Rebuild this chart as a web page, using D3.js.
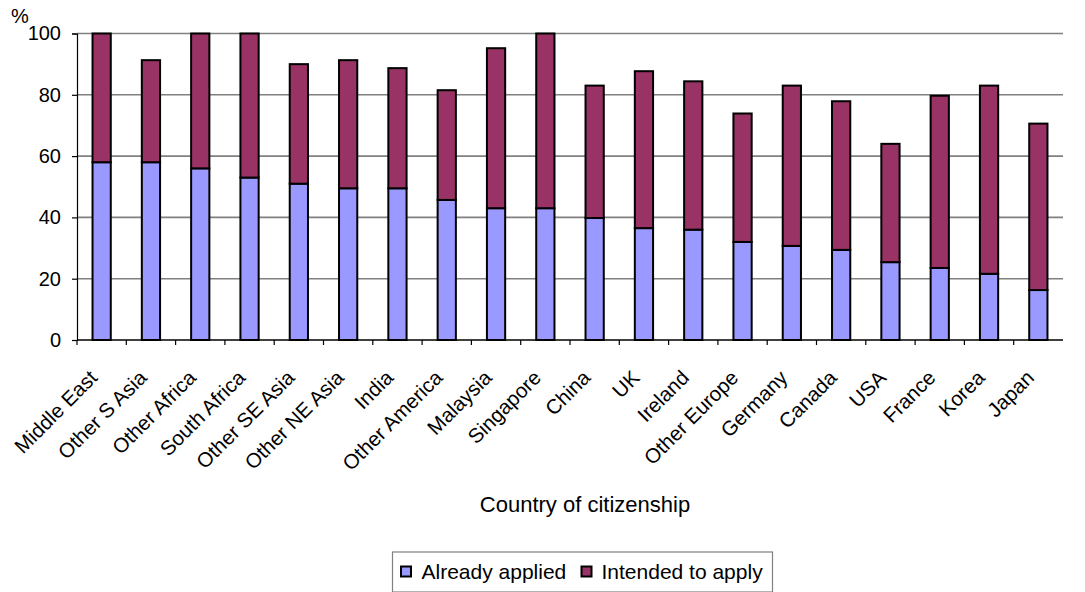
<!DOCTYPE html>
<html>
<head>
<meta charset="utf-8">
<script src="https://cdn.jsdelivr.net/npm/d3@7"></script>
<style>
  html, body { margin: 0; padding: 0; background: #fff; }
  svg { display: block; font-family: "Liberation Sans", Arial, sans-serif; }
</style>
</head>
<body>
<svg id="chart" width="1085" height="592"></svg>
<script>
// Country of citizenship
const categories = [
  "Middle East", "Other S Asia", "Other Africa", "South Africa", "Other SE Asia",
  "Other NE Asia", "India", "Other America", "Malaysia", "Singapore",
  "China", "UK", "Ireland", "Other Europe", "Germany",
  "Canada", "USA", "France", "Korea", "Japan"
];
// Percentages per group
const alreadyApplied = [58, 58, 56, 53, 51, 49.5, 49.5, 45.7, 43, 43, 39.8, 36.5, 36, 32, 30.7, 29.4, 25.4, 23.5, 21.6, 16.3];
const intendedToApply = [42, 33.3, 44, 47, 39, 41.8, 39.2, 35.8, 52.2, 57, 43.2, 51.2, 48.4, 41.9, 52.3, 48.5, 38.6, 56.2, 61.4, 54.3];
const seriesNames = ["Already applied", "Intended to apply"];
const seriesColors = ["#9999FF", "#993366"];
const yTicks = [0, 20, 40, 60, 80, 100];

const svg = d3.select("#chart");
const plotLeft = 77, plotRight = 1063, plotTop = 33.5, plotBottom = 340;

const x = d3.scaleBand().domain(categories).range([plotLeft, plotRight])
  .paddingInner(0.63).paddingOuter(0.315);
const y = d3.scaleLinear().domain([0, 100]).range([plotBottom, plotTop]);

// gridlines
svg.append("g").selectAll("line").data(yTicks.filter(t => t > 0)).join("line")
  .attr("x1", plotLeft).attr("x2", plotRight)
  .attr("y1", d => y(d)).attr("y2", d => y(d))
  .attr("stroke", "#808080").attr("stroke-width", 1.6);

// stacked data
const rows = categories.map((c, i) => ({
  cat: c, "Already applied": alreadyApplied[i], "Intended to apply": intendedToApply[i]
}));
const stack = d3.stack().keys(seriesNames)(rows);

svg.append("g").selectAll("g").data(stack).join("g")
  .attr("fill", (d, i) => seriesColors[i])
  .selectAll("rect").data(d => d).join("rect")
  .attr("x", d => x(d.data.cat))
  .attr("width", x.bandwidth())
  .attr("y", d => y(d[1]))
  .attr("height", d => y(d[0]) - y(d[1]))
  .attr("stroke", "#000").attr("stroke-width", 2);

// y axis
const yAxis = svg.append("g").attr("transform", `translate(${plotLeft},0)`)
  .call(d3.axisLeft(y).tickValues(yTicks).tickSize(5).tickPadding(11));
yAxis.select(".domain").attr("stroke", "#000").attr("stroke-width", 1.2);
yAxis.selectAll(".tick line").attr("stroke", "#000").attr("stroke-width", 1.2);
yAxis.selectAll(".tick text").attr("font-size", 20).attr("fill", "#000")
  .attr("font-family", "Liberation Sans, Arial, sans-serif");

// x axis: ticks sit on the category boundaries
const step = x.step();
const boundaries = categories.map(c => x(c) + x.bandwidth() / 2 - step / 2);
const xg = svg.append("g");
xg.append("line").attr("x1", plotLeft).attr("x2", plotRight)
  .attr("y1", plotBottom).attr("y2", plotBottom)
  .attr("stroke", "#000").attr("stroke-width", 1.5);
xg.selectAll("line.tick").data(boundaries).join("line").attr("class", "tick")
  .attr("x1", d => d).attr("x2", d => d)
  .attr("y1", plotBottom).attr("y2", plotBottom + 5)
  .attr("stroke", "#000").attr("stroke-width", 1.2);
xg.selectAll("text").data(categories).join("text")
  .attr("transform", d => `translate(${x(d) + x.bandwidth() / 2 - 3},${plotBottom + 39}) rotate(-45)`)
  .attr("text-anchor", "end")
  .attr("font-size", 20.5)
  .text(d => d);

// unit label
svg.append("text").attr("x", 11).attr("y", 23).attr("font-size", 20).text("%");

// axis title
svg.append("text").attr("x", 585).attr("y", 512)
  .attr("text-anchor", "middle").attr("font-size", 22)
  .text("Country of citizenship");

// legend
const lg = svg.append("g");
lg.append("rect").attr("x", 392.5).attr("y", 552).attr("width", 380).attr("height", 40)
  .attr("fill", "#fff").attr("stroke", "#808080").attr("stroke-width", 1.2);
const items = [{ sx: 401, tx: 421.5 }, { sx: 581.5, tx: 601.5 }];
seriesNames.forEach((name, i) => {
  lg.append("rect").attr("x", items[i].sx).attr("y", 566.5).attr("width", 10).attr("height", 10)
    .attr("fill", seriesColors[i]).attr("stroke", "#000").attr("stroke-width", 2);
  lg.append("text").attr("x", items[i].tx).attr("y", 578.5).attr("font-size", 21).text(name);
});
</script>
</body>
</html>
